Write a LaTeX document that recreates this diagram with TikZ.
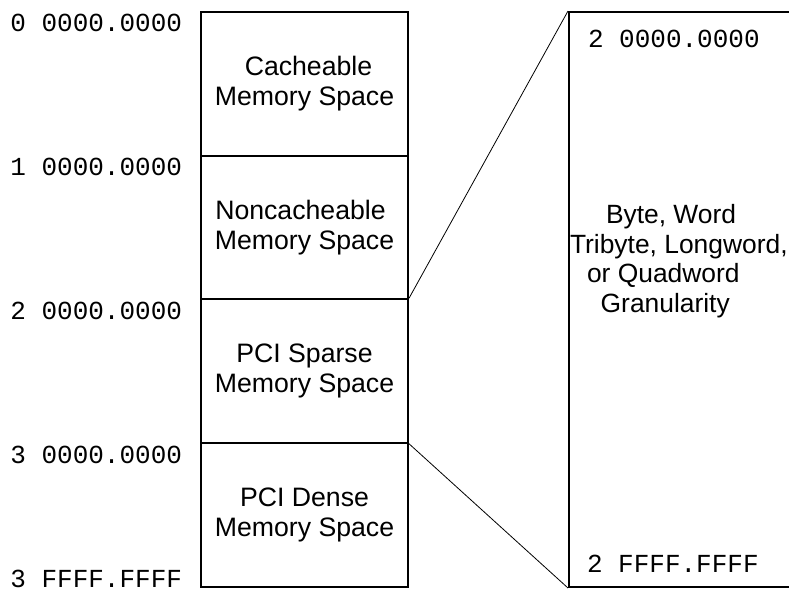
\documentclass[tikz,border=0pt]{standalone}
\usepackage{fontspec}
\setmainfont{Liberation Sans}
\setmonofont{Liberation Mono}

\begin{document}
\begin{tikzpicture}[x=0.75pt, y=-0.75pt, line width=1.5pt,
  region/.style={draw, rectangle, inner sep=0pt, minimum width=155.25pt, minimum height=107.6pt,
    align=center, font=\fontsize{20}{22.5}\selectfont},
  addr/.style={inner sep=0pt, font=\ttfamily\fontsize{19.5}{22}\selectfont}]
  \clip (0,0) rectangle (789,590);

  \node[region] (cache)    at (304.5,84)    {\hspace*{6pt}Cacheable\\Memory Space};
  \node[region] (noncache) at (304.5,227.5) {Noncacheable\hspace*{6pt}\\Memory Space};
  \node[region] (sparse)   at (304.5,371)   {PCI Sparse\\Memory Space};
  \node[region] (dense)    at (304.5,515)   {PCI Dense\\Memory Space};

  \node[draw, rectangle, inner sep=0pt, minimum width=188.25pt, minimum height=431.25pt] (gran) at (694.5,299.5) {};
  \node[inner sep=0pt, anchor=west, align=left, font=\fontsize{19.8}{22.2}\selectfont] (grantext) at (569,261)
  {\hspace*{27pt}Byte, Word\\
   Tribyte, Longword,\\
   \hspace*{12.75pt}or Quadword\\
   \hspace*{23pt}Granularity};

  % addresses
  \node[addr, anchor=north east] (a0) at (183,13)  {0 0000.0000};
  \node[addr, anchor=north east] (a1) at (183,157) {1 0000.0000};
  \node[addr, anchor=north east] (a2) at (183,301) {2 0000.0000};
  \node[addr, anchor=north east] (a3) at (183,445) {3 0000.0000};
  \node[addr, anchor=base east]  (a4) at (183,587) {3 FFFF.FFFF};
  \node[addr, anchor=north west] (g0) at (587,29)  {2 0000.0000};
  \node[addr, anchor=base west]  (g1) at (586,572) {2 FFFF.FFFF};

  \draw[line width=0.6pt] (sparse.north east) -- (gran.north west);
  \draw[line width=0.6pt] (sparse.south east) -- (gran.south west);
\end{tikzpicture}
\end{document}
